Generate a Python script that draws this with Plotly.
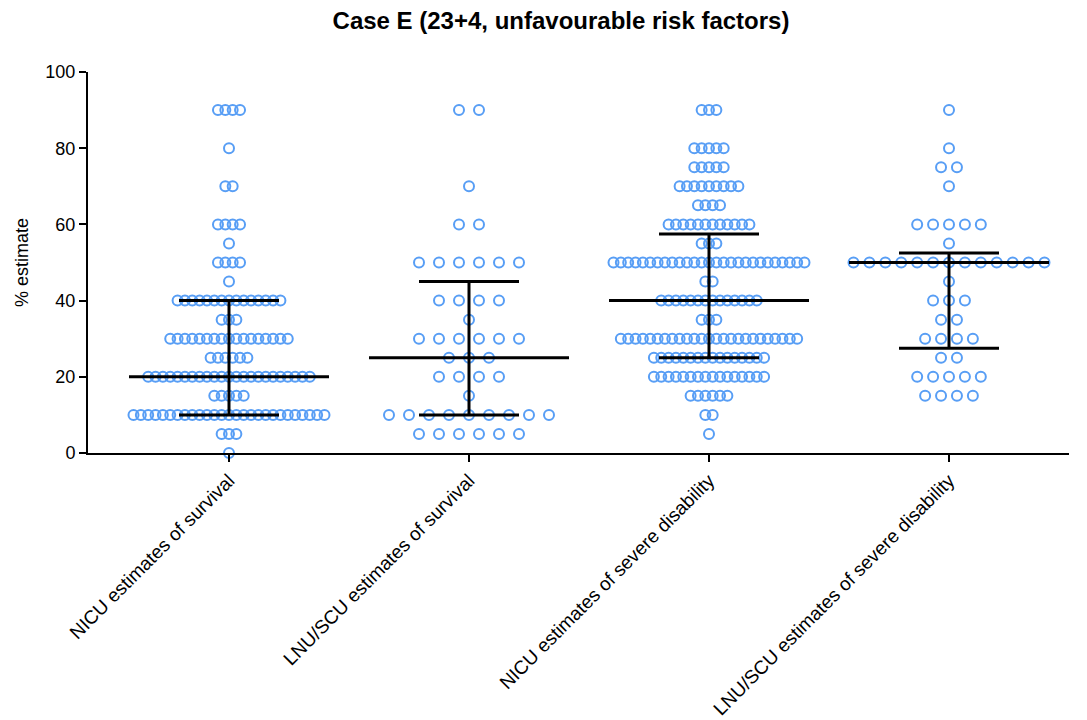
import numpy as np
import plotly.graph_objects as go

# Category labels
categories = [
    "NICU estimates of survival",
    "LNU/SCU estimates of survival",
    "NICU estimates of severe disability",
    "LNU/SCU estimates of severe disability",
]

# Each group: estimate levels (%) and number of respondents at each level
nicu_surv_levels = [0, 5, 10, 15, 20, 25, 30, 35, 40, 45, 50, 55, 60, 70, 80, 90]
nicu_surv_counts = [1, 3, 27, 5, 23, 6, 17, 3, 15, 1, 4, 1, 4, 2, 1, 4]

lnu_surv_levels = [5, 10, 15, 20, 25, 30, 35, 40, 50, 60, 70, 90]
lnu_surv_counts = [6, 9, 1, 4, 3, 6, 1, 4, 6, 2, 1, 2]

nicu_dis_levels = [5, 10, 15, 20, 25, 30, 35, 40, 45, 50, 55, 60, 65, 70, 75, 80, 90]
nicu_dis_counts = [1, 2, 6, 16, 16, 25, 3, 14, 2, 27, 3, 12, 4, 9, 5, 5, 3]

lnu_dis_levels = [15, 20, 25, 30, 35, 40, 45, 50, 55, 60, 70, 75, 80, 90]
lnu_dis_counts = [4, 5, 2, 4, 2, 3, 1, 13, 1, 5, 1, 2, 1, 1]

groups = [
    (nicu_surv_levels, nicu_surv_counts),
    (lnu_surv_levels, lnu_surv_counts),
    (nicu_dis_levels, nicu_dis_counts),
    (lnu_dis_levels, lnu_dis_counts),
]

# Layout geometry (pixels)
PX_PER_CAT = 240.0       # distance between category centres
MAX_ROW_PX = 191.0       # widest allowed span of marker centres in a row
MAX_STEP_PX = 20.0       # largest gap between neighbouring markers
MEDIAN_HALF = 100.0 / PX_PER_CAT
QUART_HALF = 50.0 / PX_PER_CAT

marker_color = "rgb(88,158,245)"

fig = go.Figure()

for gi, (levels, counts) in enumerate(groups):
    nmax = max(counts)
    step_px = min(MAX_STEP_PX, MAX_ROW_PX / max(nmax - 1, 1))
    step = step_px / PX_PER_CAT
    xs, ys = [], []
    for lv, c in zip(levels, counts):
        offs = (np.arange(c) - (c - 1) / 2.0) * step
        xs.extend(gi + offs)
        ys.extend([lv] * c)
    fig.add_trace(go.Scatter(
        x=xs, y=ys, mode="markers",
        marker=dict(symbol="circle-open", size=10, color=marker_color,
                    line=dict(width=2, color=marker_color)),
        cliponaxis=False, showlegend=False, hoverinfo="y",
    ))

# Median with interquartile range
for gi, (levels, counts) in enumerate(groups):
    vals = np.repeat(levels, counts).astype(float)
    med = np.percentile(vals, 50, method="weibull")
    q1 = np.percentile(vals, 25, method="weibull")
    q3 = np.percentile(vals, 75, method="weibull")
    lx, ly = [], []
    lx += [gi - MEDIAN_HALF, gi + MEDIAN_HALF, None]
    ly += [med, med, None]
    lx += [gi - QUART_HALF, gi + QUART_HALF, None]
    ly += [q1, q1, None]
    lx += [gi - QUART_HALF, gi + QUART_HALF, None]
    ly += [q3, q3, None]
    lx += [gi, gi, None]
    ly += [q1, q3, None]
    fig.add_trace(go.Scatter(
        x=lx, y=ly, mode="lines", line=dict(color="black", width=3),
        cliponaxis=False, showlegend=False, hoverinfo="skip",
    ))

fig.update_layout(
    width=1087, height=720,
    margin=dict(l=88, r=18, t=72, b=267),
    paper_bgcolor="white", plot_bgcolor="white",
    font=dict(family="Liberation Sans, Arial, sans-serif", size=19, color="black"),
    title=dict(
        text="<b>Case E (23+4, unfavourable risk factors)</b>",
        x=561 / 1087, xanchor="center", xref="container",
        y=1 - 21 / 720, yanchor="middle", yref="container",
        font=dict(size=24, color="black"),
    ),
    xaxis=dict(
        range=[-141 / PX_PER_CAT, 3 + 120 / PX_PER_CAT],
        tickmode="array", tickvals=[0, 1, 2, 3], ticktext=categories,
        tickangle=-45, ticks="outside", ticklen=7, tickwidth=1.5,
        tickcolor="black", showline=True, linecolor="black", linewidth=2,
        showgrid=False, zeroline=False, tickfont=dict(size=19),
        automargin=False,
    ),
    yaxis=dict(
        range=[0, 100], tickvals=[0, 20, 40, 60, 80, 100],
        ticks="outside", ticklen=7, tickwidth=1.5, tickcolor="black",
        showline=True, linecolor="black", linewidth=2,
        showgrid=False, zeroline=False, tickfont=dict(size=18),
        title=dict(text="% estimate", font=dict(size=18), standoff=12),
        automargin=False,
    ),
)

fig.write_html("out.html")
